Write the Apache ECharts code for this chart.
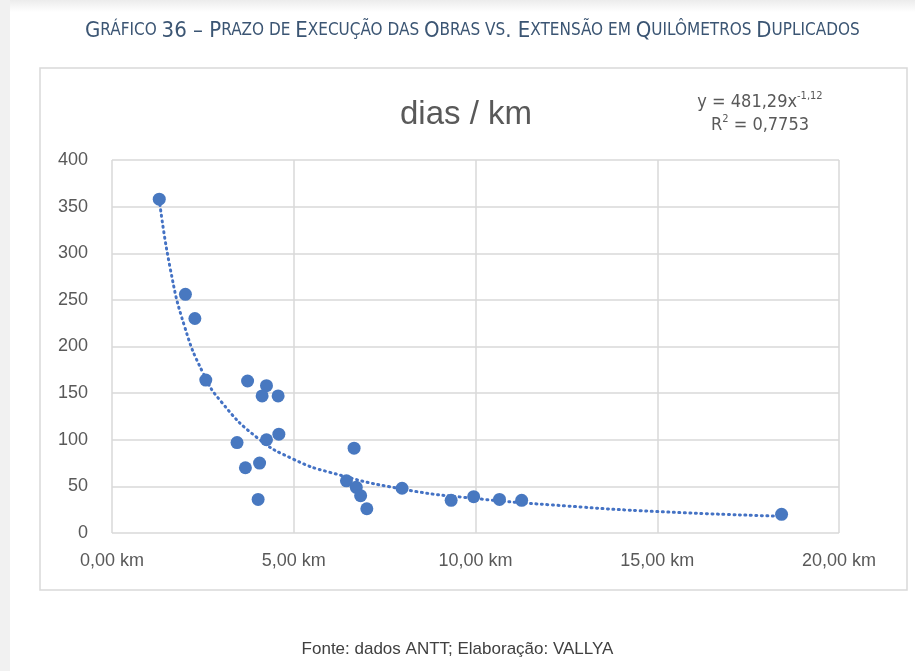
<!DOCTYPE html>
<html>
<head>
<meta charset="utf-8">
<script src="https://cdn.jsdelivr.net/npm/echarts@6/dist/echarts.min.js"></script>
<style>
  html, body { margin: 0; padding: 0; background: #fff; }
  #chart { width: 915px; height: 671px; }
</style>
</head>
<body>
<div id="chart"></div>
<script>
// extensão duplicada (km) e prazo (dias / km) de cada obra
var kmValues = [1.30, 2.02, 2.28, 2.58, 3.73, 4.25, 4.13, 4.57, 4.59, 3.44, 4.25, 3.67, 4.06, 4.02,
                6.66, 6.45, 6.72, 6.84, 7.01, 7.98, 9.33, 9.95, 10.66, 11.27, 18.42];
var diasPorKm = [358, 256, 230, 164, 163, 158, 147, 147, 106, 97, 100, 70, 75, 36,
                 91, 56, 49, 40, 26, 48, 35, 39, 36, 35, 20];

// linha de tendência (potência)
var trendKm = [1.3, 1.6, 2.0, 2.5, 3.0, 4.0, 5.0, 6.0, 8.0, 10.0, 12.5, 15.0, 18.4];
var trendDias = [358, 284, 221, 172, 141, 102, 79, 65, 47, 37, 29, 23, 18];

var xTicks = [0, 5, 10, 15, 20];
var yTicks = [0, 50, 100, 150, 200, 250, 300, 350, 400];

var titleText = 'Gráfico 36 – Prazo de Execução das Obras vs. Extensão em Quilômetros Duplicados';
var subTitle = 'dias / km';
var eqLine1 = 'y = 481,29x';
var eqSup1 = '-1,12';
var eqLine2a = 'R';
var eqSup2 = '2';
var eqLine2b = ' = 0,7753';
var fonte = 'Fonte: dados ANTT; Elaboração: VALLYA';

var FONT = '"Liberation Sans", Arial, sans-serif';
var NARROW = '"Liberation Sans Narrow", "DejaVu Sans Condensed", "Liberation Sans", sans-serif';

// versaletes: maiúsculas grandes, minúsculas em maiúscula menor
function smallCaps(s) {
    var out = '', cur = null, buf = '';
    for (var i = 0; i < s.length; i++) {
        var c = s[i];
        var st = (c !== c.toUpperCase()) ? 's' : 'b';
        if (c === ' ' && cur) st = cur;
        if (st !== cur && buf) { out += '{' + cur + '|' + buf + '}'; buf = ''; }
        cur = st;
        buf += c.toUpperCase();
    }
    if (buf) out += '{' + cur + '|' + buf + '}';
    return out;
}

function fmtKm(v) {
    return v.toFixed(2).replace('.', ',') + ' km';
}

var chart = echarts.init(document.getElementById('chart'));

chart.setOption({
    backgroundColor: '#fff',
    animation: false,
    graphic: [
        {
            type: 'rect', z: -10, silent: true,
            shape: { x: 0, y: 0, width: 915, height: 12 },
            style: { fill: new echarts.graphic.LinearGradient(0, 0, 0, 1, [
                { offset: 0, color: '#ececec' }, { offset: 1, color: '#ffffff' }]) }
        },
        {
            type: 'rect', z: -10, silent: true,
            shape: { x: 0, y: 0, width: 10, height: 671 },
            style: { fill: '#f1f1f1' }
        },
        {
            type: 'rect', z: -9, silent: true,
            shape: { x: 40, y: 68, width: 867, height: 522 },
            style: { fill: '#fff', stroke: '#d9d9d9', lineWidth: 1.5 }
        }
    ],
    title: [
        {
            text: smallCaps(titleText),
            left: 80,
            top: 15,
            textStyle: {
                fontWeight: 'normal',
                rich: {
                    b: { fontFamily: NARROW, fontWeight: 'normal', fontSize: 22, color: '#3b5573' },
                    s: { fontFamily: NARROW, fontWeight: 'normal', fontSize: 17, color: '#3b5573' }
                }
            }
        },
        {
            text: subTitle,
            left: 461,
            top: 93,
            textAlign: 'center',
            textStyle: { fontFamily: FONT, fontSize: 33, fontWeight: 'normal', color: '#595959' }
        },
        {
            text: '{n|' + eqLine1 + '}{sup|' + eqSup1 + '}\n{n|' + eqLine2a + '}{sup|' + eqSup2 + '}{n|' + eqLine2b + '}',
            left: 755,
            top: 86,
            textAlign: 'center',
            textStyle: {
                align: 'center',
                fontWeight: 'normal',
                rich: {
                    n: { fontFamily: NARROW, fontWeight: 'normal', fontSize: 18, color: '#595959', lineHeight: 23 },
                    sup: { fontFamily: NARROW, fontWeight: 'normal', fontSize: 11, color: '#595959', lineHeight: 12, verticalAlign: 'top' }
                }
            }
        },
        {
            text: fonte,
            left: 'center',
            top: 636,
            textStyle: { fontFamily: FONT, fontSize: 17, fontWeight: 'normal', color: '#404040' }
        }
    ],
    grid: { left: 112, right: 76, top: 160, bottom: 138 },
    xAxis: {
        type: 'value',
        min: xTicks[0],
        max: xTicks[xTicks.length - 1],
        interval: xTicks[1] - xTicks[0],
        axisLine: { show: false },
        axisTick: { show: false },
        splitLine: { lineStyle: { color: '#d9d9d9', width: 1.5 } },
        axisLabel: { formatter: fmtKm, margin: 19, fontFamily: FONT, fontSize: 18, color: '#595959' }
    },
    yAxis: {
        type: 'value',
        min: yTicks[0],
        max: yTicks[yTicks.length - 1],
        interval: yTicks[1] - yTicks[0],
        axisLine: { show: false },
        axisTick: { show: false },
        splitLine: { lineStyle: { color: '#d9d9d9', width: 1.5 } },
        axisLabel: { margin: 24, fontFamily: FONT, fontSize: 18, color: '#595959' }
    },
    series: [
        {
            name: 'Tendência',
            type: 'line',
            smooth: true,
            showSymbol: false,
            z: 2,
            data: trendKm.map(function (x, i) { return [x, trendDias[i]]; }),
            lineStyle: { color: '#4472c4', width: 3, type: [1, 4.5], cap: 'round' }
        },
        {
            name: 'dias / km',
            type: 'scatter',
            z: 3,
            symbolSize: 13,
            data: kmValues.map(function (x, i) { return [x, diasPorKm[i]]; }),
            itemStyle: { color: '#4878c0', opacity: 1 }
        }
    ]
});

window.addEventListener('resize', function () {
    chart.resize();
});
</script>
</body>
</html>
